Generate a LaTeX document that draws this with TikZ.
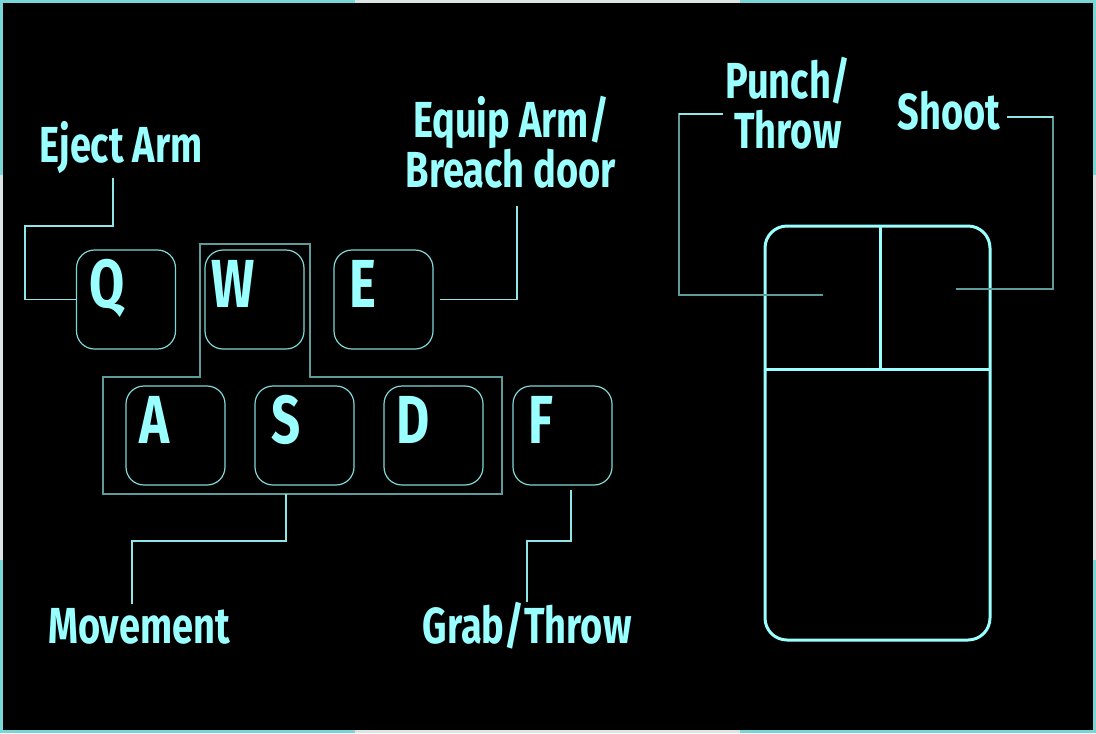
\documentclass[tikz,border=0pt]{standalone}
\usepackage{fontspec}
\setmainfont[FakeStretch=0.75]{Fira Sans}
\definecolor{textc}{HTML}{9AFFFF}
\definecolor{keyc}{HTML}{7FD8D8}
\definecolor{grpc}{HTML}{5E9C9C}
\definecolor{connc}{HTML}{8EE6E6}
\definecolor{bcyan}{HTML}{79D6D6}
\definecolor{bgrey}{HTML}{DCE4E4}
\tikzset{
  keybox/.style={draw=keyc, line width=0.9pt, rounded corners=13.5pt, minimum width=74.25pt, minimum height=74.25pt, inner sep=0pt},
  keylet/.style={text=textc, font=\bfseries\fontsize{51pt}{51pt}\selectfont, anchor=base, inner sep=0pt},
  lbl/.style={text=textc, font=\bfseries\fontsize{38pt}{37.5pt}\selectfont, align=center, inner sep=0pt},
  conn/.style={draw=connc, line width=0.8pt},
  connd/.style={draw=grpc, line width=1pt},
  grp/.style={draw=grpc, line width=1.1pt},
  mousest/.style={draw=textc, line width=2.25pt},
  brd/.style={line width=2.4pt}
}
\begin{document}
\begin{tikzpicture}[x=0.75pt,y=-0.75pt]
\fill[black] (0,0) rectangle (1096,733);
\useasboundingbox (0,0) rectangle (1096,733);
% frame
\draw[brd,bcyan] (0,1.5) -- (355,1.5);
\draw[brd,bgrey] (355,1.5) -- (740,1.5);
\draw[brd,bcyan] (740,1.5) -- (1096,1.5);
\draw[brd,bcyan] (0,731.5) -- (355,731.5);
\draw[brd,bgrey] (355,731.5) -- (740,731.5);
\draw[brd,bcyan] (740,731.5) -- (1096,731.5);
\draw[brd,bcyan] (1.5,0) -- (1.5,175);
\draw[brd,bgrey] (1.5,175) -- (1.5,560);
\draw[brd,bcyan] (1.5,560) -- (1.5,733);
\draw[brd,bcyan] (1094.5,0) -- (1094.5,175);
\draw[brd,bgrey] (1094.5,175) -- (1094.5,560);
\draw[brd,bcyan] (1094.5,560) -- (1094.5,733);

% movement group outline
\draw[grp] (200,244) -- (310,244) -- (310,377) -- (502,377) -- (502,494) -- (103,494) -- (103,377) -- (200,377) -- cycle;

% keys
\node[keybox] (q) at (126,299.5) {};
\node[keybox] (w) at (254.5,299.5) {};
\node[keybox] (e) at (383.5,299.5) {};
\node[keybox] (a) at (175.5,435.5) {};
\node[keybox] (s) at (304.5,435.5) {};
\node[keybox] (d) at (433.5,435.5) {};
\node[keybox] (f) at (562.5,435.5) {};
\node[keylet] (ql) at (107,307) {Q};
\node[keylet] (wl) at (233,307) {W};
\node[keylet] (el) at (363,307) {E};
\node[keylet] (al) at (155,443) {A};
\node[keylet] (sl) at (286,443) {S};
\node[keylet] (dl) at (413,443) {D};
\node[keylet] (fl) at (541,443) {F};

% mouse
\node[mousest, rounded corners=16.5pt, minimum width=168.75pt, minimum height=310.5pt, inner sep=0pt] (mouse) at (877.5,433) {};
\draw[mousest] (880,226) -- (880,369);
\draw[mousest] (765,369) -- (990,369);
\coordinate (lb) at (823,295);
\coordinate (rb) at (956,289);

% labels
\node[lbl, anchor=base] (eject) at (121,162) {Eject Arm};
\node[lbl] (equip) at (511,142) {Equip Arm/\\Breach door};
\node[lbl] (punch) at (788,103) {Punch/\\Throw};
\node[lbl, anchor=base] (shoot) at (949,129) {Shoot};
\node[lbl, anchor=base] (move) at (139,643) {Movement};
\node[lbl, anchor=base] (grab) at (527,643) {Grab/Throw};

% connectors
\coordinate (ej1) at (113,178);
\draw[conn] (ej1) |- (25,226) |- (q.west);
\coordinate (eq1) at (517,206);
\draw[conn] (eq1) |- ([xshift=4.5pt]e.east);
\coordinate (mv1) at (286,494);
\coordinate (mv2) at (132,604);
\draw[conn] (mv1) -- (286,541) -| (mv2);
\coordinate (gr1) at (571,490);
\coordinate (gr2) at (527,602);
\draw[conn] (gr1) -- (571,541) -| (gr2);
\coordinate (pu1) at (723,114);
\coordinate (pu2) at (679,114);
\draw[connd] (pu1) -| (679,295) -- (lb);
\draw[conn] (pu1) -- (pu2);
\coordinate (sh1) at (1007,117);
\coordinate (sh2) at (1053,117);
\draw[connd] (sh1) -| (1053,289) -- (rb);
\draw[conn] (sh1) -- (sh2);
\end{tikzpicture}
\end{document}
